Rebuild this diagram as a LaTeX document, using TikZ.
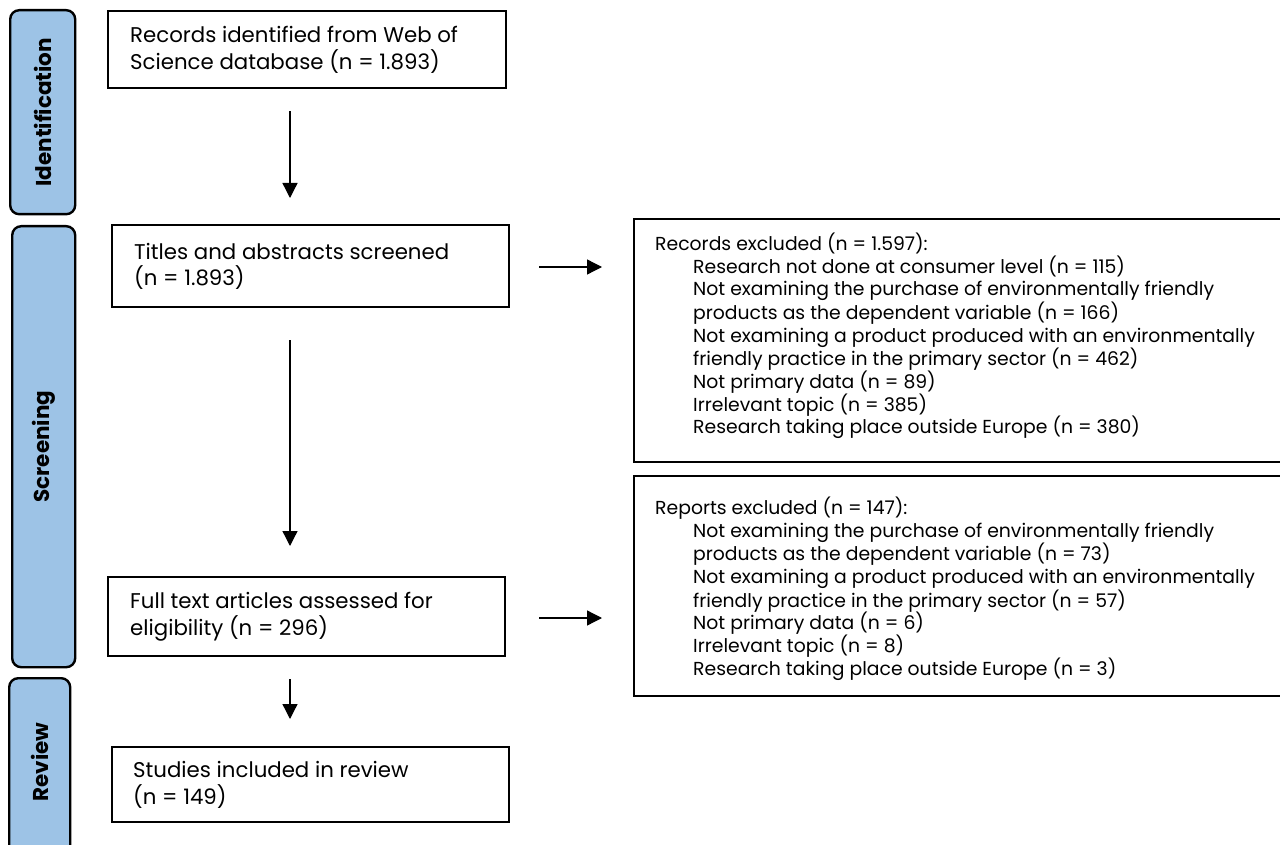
\documentclass[tikz,border=0pt]{standalone}
\usepackage{fontspec}
\setmainfont{Poppins}
\usetikzlibrary{arrows.meta,calc}
\definecolor{phase}{HTML}{9DC3E6}
\begin{document}
\begin{tikzpicture}[x=1pt,y=-1pt,
  phasebox/.style={draw=black,line width=2.4pt,fill=phase,rounded corners=9pt,anchor=north west,inner sep=0pt},
  mainbox/.style={draw=black,line width=2.4pt,anchor=north west,inner sep=0pt,align=left,font=\fontsize{21.3}{26.5}\selectfont},
  exbox/.style={draw=black,line width=2.4pt,anchor=north west,inner sep=0pt},
  extext/.style={anchor=north west,inner sep=0pt,align=left,font=\fontsize{18.8}{22.6}\selectfont},
  phaselabel/.style={rotate=90,font=\bfseries\fontsize{21.5}{24}\selectfont,inner sep=0pt},
  arr/.style={line width=1.3pt,-{Triangle[length=15pt,width=15pt]}}
]
\useasboundingbox[fill=white] (0,0) rectangle (1280,845);
\begin{scope}
\clip (0,0) rectangle (1280,845);
% phase boxes
\node[phasebox,minimum width=65pt,minimum height=204pt] (idb) at (9,9) {};
\node[phasebox,minimum width=63pt,minimum height=441pt] (scb) at (11,225) {};
\node[phasebox,minimum width=61pt,minimum height=190pt] (rvb) at (8,677) {};
\node[phaselabel] (idl) at (idb.center) {Identification};
\node[phaselabel] (scl) at (scb.center) {Screening};
\node[phaselabel] (rvl) at ($(rvb.north)+(0,85)$) {Review};
% main boxes
\node[mainbox,minimum width=398pt,minimum height=77pt] (rid) at (107,10)
  {\begin{minipage}{398pt}\hspace*{22pt}Records identified from Web of\\\hspace*{22pt}Science database (n = 1.893)\end{minipage}};
\node[mainbox,minimum width=397pt,minimum height=82pt] (tas) at (111,224)
  {\begin{minipage}{397pt}\hspace*{22pt}Titles and abstracts screened\\\hspace*{22pt}(n = 1.893)\end{minipage}};
\node[mainbox,minimum width=397pt,minimum height=79pt] (fta) at (107,576)
  {\begin{minipage}{397pt}\hspace*{22pt}Full text articles assessed for\\\hspace*{22pt}eligibility (n = 296)\end{minipage}};
\node[mainbox,minimum width=397pt,minimum height=75pt] (sir) at (111,746)
  {\begin{minipage}{397pt}\hspace*{21pt}Studies included in review\\\hspace*{21pt}(n = 149)\end{minipage}};
% exclusion boxes
\node[exbox,minimum width=660pt,minimum height=243pt] (rex) at (633,218) {};
\node[exbox,minimum width=660pt,minimum height=220pt] (pex) at (633,475) {};
\node[extext] (rext) at ($(rex.north west)+(22,15)$)
  {Records excluded (n = 1.597):\\
   \hspace*{38pt}Research not done at consumer level (n = 115)\\
   \hspace*{38pt}Not examining the purchase of environmentally friendly\\
   \hspace*{38pt}products as the dependent variable (n = 166)\\
   \hspace*{38pt}Not examining a product produced with an environmentally\\
   \hspace*{38pt}friendly practice in the primary sector (n = 462)\\
   \hspace*{38pt}Not primary data (n = 89)\\
   \hspace*{38pt}Irrelevant topic (n = 385)\\
   \hspace*{38pt}Research taking place outside Europe (n = 380)};
\node[extext] (pext) at ($(pex.north west)+(22,22)$)
  {Reports excluded (n = 147):\\
   \hspace*{38pt}Not examining the purchase of environmentally friendly\\
   \hspace*{38pt}products as the dependent variable (n = 73)\\
   \hspace*{38pt}Not examining a product produced with an environmentally\\
   \hspace*{38pt}friendly practice in the primary sector (n = 57)\\
   \hspace*{38pt}Not primary data (n = 6)\\
   \hspace*{38pt}Irrelevant topic (n = 8)\\
   \hspace*{38pt}Research taking place outside Europe (n = 3)};
% connectors
\coordinate (ax) at (290,0);
\draw[arr,shorten <=22pt,shorten >=26pt] (rid.south -| ax) -- (tas.north -| ax);
\draw[arr,shorten <=32pt,shorten >=30pt] (tas.south -| ax) -- (fta.north -| ax);
\draw[arr,shorten <=22pt,shorten >=27pt] (fta.south -| ax) -- (sir.north -| ax);
\coordinate (t1) at (0,267);
\coordinate (t2) at (0,618);
\draw[arr,shorten <=29pt,shorten >=31pt] (tas.east |- t1) -- (rex.west |- t1);
\draw[arr,shorten <=33pt,shorten >=31pt] (fta.east |- t2) -- (pex.west |- t2);
\end{scope}
\end{tikzpicture}
\end{document}
